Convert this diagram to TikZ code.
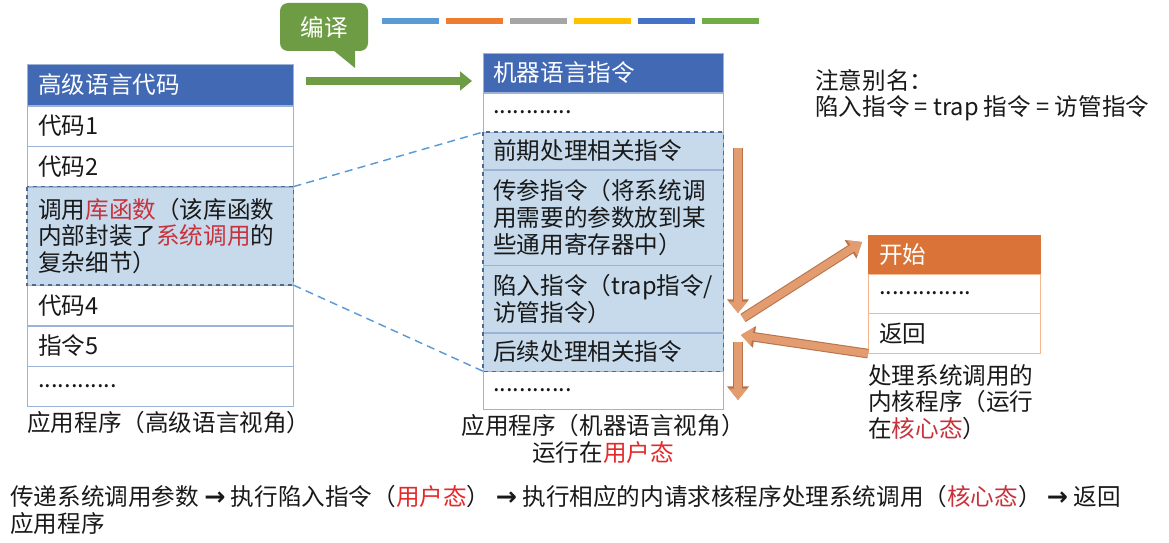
\documentclass[tikz,border=0pt]{standalone}
\usepackage{fontspec}
\setmainfont{Noto Sans CJK SC}
\newfontfamily\arrowfont{DejaVu Sans}
\usetikzlibrary{positioning,arrows.meta}

\definecolor{hdrblue}{HTML}{4169B4}
\definecolor{tblline}{HTML}{9DB3D6}
\definecolor{hlfill}{HTML}{C6DAEC}
\definecolor{hlframe}{HTML}{4A6A92}
\definecolor{linkblue}{HTML}{5B9BD5}
\definecolor{compgreen}{HTML}{6E9C45}
\definecolor{arrorange}{HTML}{E39C6F}
\definecolor{arredge}{HTML}{B8734A}
\definecolor{hdrorange}{HTML}{DA7338}
\definecolor{rtline}{HTML}{F3B88F}
\definecolor{redA}{HTML}{C8323C}
\definecolor{redB}{HTML}{E5292B}
\definecolor{barA}{HTML}{5B9BD5}
\definecolor{barB}{HTML}{ED7D31}
\definecolor{barC}{HTML}{A5A5A5}
\definecolor{barD}{HTML}{FFC000}
\definecolor{barE}{HTML}{4472C4}
\definecolor{barF}{HTML}{70AD47}

\newcommand{\thenarrow}{\hspace{4pt}{\arrowfont\bfseries\fontsize{19}{20}\selectfont →}\hspace{4pt}}

\tikzset{
  lcell/.style={draw=tblline, fill=white, minimum width=199.5pt, text width=183pt,
    inner xsep=8.25pt, inner ysep=0pt, align=left, minimum height=#1},
  lcell/.default=30pt,
  mcell/.style={draw=tblline, fill=white, minimum width=180pt, text width=165pt,
    inner xsep=7.5pt, inner ysep=0pt, align=left, minimum height=#1},
  mcell/.default=29.25pt,
  rcell/.style={draw=rtline, fill=white, minimum width=129pt, text width=112.5pt,
    inner xsep=8.25pt, inner ysep=0pt, align=left, minimum height=#1},
  rcell/.default=29.25pt,
  hlframe/.style={draw=hlframe, dashed, line width=1pt},
  link/.style={draw=linkblue, line width=1.1pt, dash pattern=on 6pt off 4pt},
  flow/.style={preaction={draw=arredge, line width=7.2pt, -{Triangle[width=15.8pt,length=10.2pt]}},
    draw=arrorange, line width=5.6pt, -{Triangle[width=13.6pt,length=8.6pt]}},
  compile/.style={draw=compgreen, line width=6.5pt, -{Triangle[width=14pt,length=9pt]}},
  caption/.style={inner sep=0pt},
}

\begin{document}
\begin{tikzpicture}[x=0.75pt,y=-0.75pt,
  every node/.style={font=\fontsize{17.7}{20}\selectfont, text=black!90}]
\useasboundingbox (0,0) rectangle (1169,542);

% colour bars and the compile callout
\foreach \c [count=\i] in {barA,barB,barC,barD,barE,barF}
  \fill[\c] ({382+64*(\i-1)},18) rectangle +(57,6);
\node[fill=compgreen, rounded corners=6pt, minimum width=66pt, minimum height=36pt,
  text=white] (bianyi) at (324,27) {编译};
\fill[compgreen] (333,50) -- (355,68) -- (355,50) -- cycle;
\coordinate (gs) at (306,81);
\coordinate (ge) at (472,81);
\draw[compile] (gs) -- (ge);

% high level view
\node[lcell=30.75pt, fill=hdrblue, text=white, anchor=north west] (lh) at (27,64) {高级语言代码};
\node[lcell, below=0pt of lh] (l1) {代码1};
\node[lcell, below=0pt of l1] (l2) {代码2};
\node[lcell=73.5pt, fill=hlfill, below=0pt of l2] (l3)
  {调用\textcolor{redA}{库函数}（该库函数\\内部封装了\textcolor{redA}{系统调用}的\\复杂细节）};
\node[lcell, below=0pt of l3] (l4) {代码4};
\node[lcell, below=0pt of l4] (l5) {指令5};
\node[lcell, below=0pt of l5] (l6) {............};
\draw[hlframe] (l3.north west) rectangle (l3.south east);
\node[caption, anchor=west] (lcap) at (27,423) {应用程序（高级语言视角）};

% machine level view
\node[mcell, fill=hdrblue, text=white, anchor=north west] (mh) at (483,53) {机器语言指令};
\node[mcell, below=0pt of mh] (m1) {............};
\node[mcell=27.75pt, fill=hlfill, below=0pt of m1] (m2) {前期处理相关指令};
\node[mcell=71.25pt, fill=hlfill, below=0pt of m2] (m3)
  {传参指令（将系统调\\用需要的参数放到某\\些通用寄存器中）};
\node[mcell=50.25pt, fill=hlfill, below=0pt of m3] (m4) {陷入指令（trap指令/\\访管指令）};
\node[mcell=28.5pt, fill=hlfill, below=0pt of m4] (m5) {后续处理相关指令};
\node[mcell=28.5pt, below=0pt of m5] (m6) {............};
\draw[hlframe] (m2.north west) rectangle (m5.south east);
\node[caption, align=center] (mcap) at (603,439) {应用程序（机器语言视角）\\运行在\textcolor{redB}{用户态}};

\draw[link] (l3.north east) -- (m2.north west);
\draw[link] (l3.south east) -- (m5.south west);

% kernel routine
\node[rcell=28.5pt, fill=hdrorange, draw=hdrorange, text=white, anchor=north west] (rh) at (868,235) {开始};
\node[rcell, below=0pt of rh] (r1) {..............};
\node[rcell=30pt, below=0pt of r1] (r2) {返回};
\node[caption, anchor=north west, align=left] (rcap) at (868,364)
  {处理系统调用的\\内核程序（运行\\在\textcolor{redA}{核心态}）};

\coordinate (d1s) at (738,148);
\coordinate (d1e) at (738,313);
\coordinate (d2s) at (738,342);
\coordinate (d2e) at (738,400);
\coordinate (ks) at (743,318);
\coordinate (ke) at (862,242);
\coordinate (re) at (741,335);
\draw[flow] (d1s) -- (d1e);
\draw[flow] (d2s) -- (d2e);
\draw[flow] (ks) -- (ke);
\draw[flow] (r2.south west) -- (re);

% notes
\node[caption, anchor=north west, align=left] (alias) at (815,69)
  {注意别名：\\陷入指令 = trap 指令 = 访管指令};
\node[caption, anchor=north west, align=left] (steps) at (10,485)
  {传递系统调用参数\thenarrow 执行陷入指令（\textcolor{redB}{用户态}）\thenarrow 执行相应的内请求核程序处理系统调用（\textcolor{redA}{核心态}）\thenarrow 返回\\应用程序};
\end{tikzpicture}
\end{document}
